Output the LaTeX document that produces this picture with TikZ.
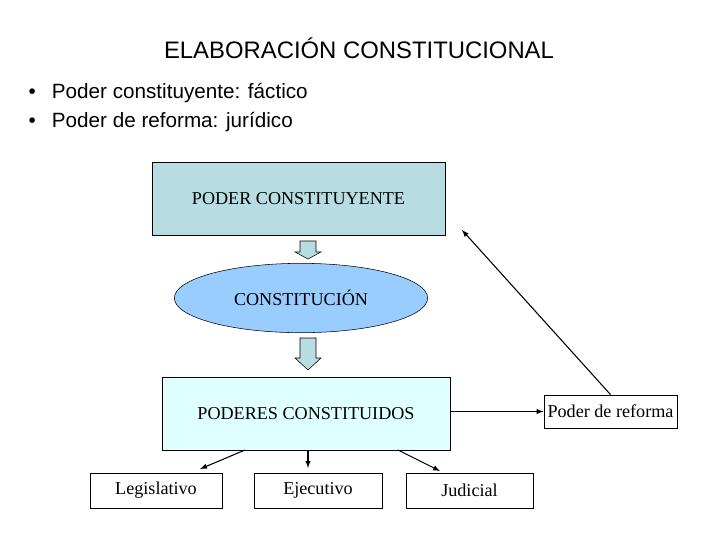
\documentclass[tikz,border=0pt]{standalone}
\usepackage{fontspec}
\setmainfont{Liberation Serif}
\newfontfamily\arial{Liberation Sans}
\usetikzlibrary{arrows,shapes,positioning}
\definecolor{constcolor}{RGB}{183, 221, 227}
\definecolor{ellcolor}{RGB}{153, 204, 255}
\definecolor{poderescolor}{RGB}{224, 255, 255}
\definecolor{blockcolor}{RGB}{183, 221, 227}

\begin{document}
\begin{tikzpicture}[x=0.75pt,y=-0.75pt,
    box/.style={draw, inner sep=0pt, font=\fontsize{13.6}{15}\selectfont}]
    \useasboundingbox (0,0) rectangle (720,540);

    % Heading
    \node (title) at (359,48) {\arial\fontsize{17.9}{20}\selectfont ELABORACIÓN CONSTITUCIONAL};
    \node[anchor=west] (b1) at (24,93) {\arial\fontsize{15.5}{18}\selectfont •\hspace{12pt}Poder constituyente: fáctico};
    \node[anchor=west] (b2) at (24,122) {\arial\fontsize{15.5}{18}\selectfont •\hspace{12pt}Poder de reforma: jurídico};

    % Main blocks
    \node[box, fill=constcolor, minimum width=220pt, minimum height=55pt] (constituyente) at (298.5,199) {PODER CONSTITUYENTE};
    \node[box, ellipse, fill=ellcolor, minimum width=190pt, minimum height=52pt] (constitucion) at (301,298) {CONSTITUCIÓN};
    \node[box, fill=poderescolor, minimum width=216pt, minimum height=55pt] (poderes) at (306,413.5) {PODERES CONSTITUIDOS};
    \node[box, minimum width=100pt, minimum height=25pt] (reforma) at (610.5,411.5) {Poder de reforma};

    % Block arrows
    \draw[fill=blockcolor] (300,241) -- (316,241) -- (316,252) -- (321,252) -- (308,259) -- (295,252) -- (300,252) -- cycle;
    \draw[fill=blockcolor] (300,338) -- (316,338) -- (316,358) -- (321,358) -- (308,370) -- (295,358) -- (300,358) -- cycle;

    % Powers
    \node[box, minimum width=99pt, minimum height=26pt] (legislativo) at (156,490.5) {Legislativo};
    \node[box, minimum width=96pt, minimum height=26pt] (ejecutivo) at (318,490.5) {Ejecutivo};
    \node[box, minimum width=95pt, minimum height=26pt] (judicial) at (469.5,490.5) {Judicial};

    % Connectors
    \coordinate (c1) at (462,230);
    \draw[-latex, thick] (poderes.east |- reforma.west) -- (reforma.west);
    \draw[-latex, thick] (reforma.north) -- (c1);
    \draw[-latex, thick] (245,450) -- (200,469);
    \draw[-latex, thick] (308,450) -- (308,468);
    \draw[-latex, thick] (398,450) -- (440,471);
\end{tikzpicture}
\end{document}
